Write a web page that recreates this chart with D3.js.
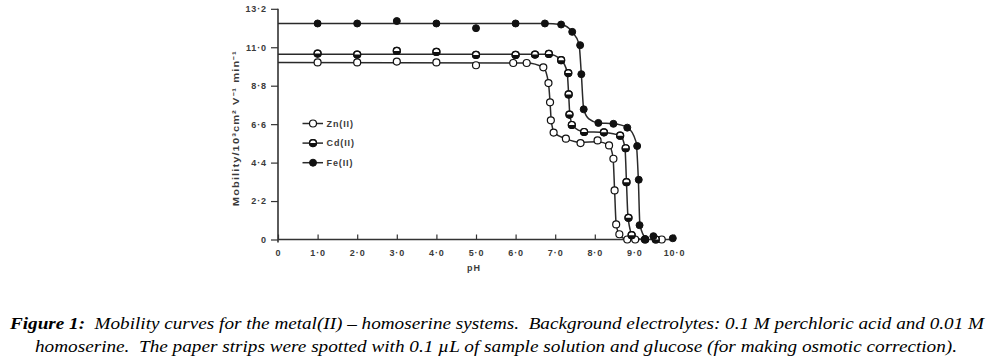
<!DOCTYPE html>
<html>
<head>
<meta charset="utf-8">
<script src="https://cdn.jsdelivr.net/npm/d3@7"></script>
<style>
  body { margin: 0; background: #fff; }
  .tick-label { font-family: "Liberation Sans", Arial, sans-serif; font-size: 9px; font-weight: bold; fill: #3a3a3a; letter-spacing: 0.9px; }
  .caption { font-family: "Liberation Serif", "Times New Roman", serif; font-style: italic; font-size: 16px; fill: #000; }
</style>
</head>
<body>
<div id="chart"></div>
<script>
// pH tick values and labels
const xTicks = [0, 1, 2, 3, 4, 5, 6, 7, 8, 9, 10];
const xTickLabels = ["0", "1·0", "2·0", "3·0", "4·0", "5·0", "6·0", "7·0", "8·0", "9·0", "10·0"];
const yTicks = [0, 2.2, 4.4, 6.6, 8.8, 11.0, 13.2];
const yTickLabels = ["0", "2·2", "4·4", "6·6", "8·8", "11·0", "13·2"];

// measured points [pH, mobility]
const znPoints = [[1, 10.13], [2, 10.13], [3, 10.18], [4, 10.13], [5, 9.97], [5.94, 10.1], [6.28, 10.1],
  [6.7, 9.85], [6.83, 8.95], [6.87, 7.85], [6.89, 6.82], [6.96, 6.12], [7.27, 5.77], [7.64, 5.52],
  [8.07, 5.67], [8.36, 5.38], [8.47, 4.62], [8.5, 2.81], [8.54, 0.86], [8.62, 0.3], [8.82, 0], [9.02, 0], [9.69, 0]];
const cdPoints = [[1, 10.64], [2, 10.58], [3, 10.79], [4, 10.73], [5, 10.56], [6, 10.56], [6.49, 10.58],
  [6.84, 10.62], [7.15, 10.26], [7.33, 9.52], [7.34, 8.3], [7.36, 7.15], [7.42, 6.55], [7.73, 6.15],
  [8.23, 6.13], [8.64, 5.94], [8.78, 5.22], [8.8, 3.28], [8.85, 1.24], [8.93, 0.25], [9.27, 0], [9.54, 0]];
const fePoints = [[1, 12.36], [2, 12.36], [3, 12.5], [4, 12.36], [5, 12.09], [6, 12.36], [6.74, 12.36],
  [7.15, 12.3], [7.43, 11.88], [7.63, 11.12], [7.66, 9.46], [7.72, 7.45], [8.09, 6.67], [8.47, 6.62],
  [8.82, 6.4], [9.07, 5.35], [9.11, 3.42], [9.13, 0.82], [9.27, 0.03], [9.48, 0.19], [9.97, 0.07]];

// hand-drawn smooth curves through the points
const znCurve = [[0, 10.13], [6.28, 10.1], [6.7, 9.85], [6.83, 8.95], [6.87, 7.85], [6.9, 6.82], [6.98, 6.1],
  [7.27, 5.77], [7.64, 5.55], [8.07, 5.6], [8.36, 5.4], [8.46, 4.7], [8.5, 2.81], [8.54, 0.86], [8.65, 0.15], [8.85, 0]];
const cdCurve = [[0, 10.6], [6.84, 10.6], [7.15, 10.28], [7.3, 9.6], [7.34, 8.3], [7.37, 7.15], [7.45, 6.5],
  [7.73, 6.17], [8.23, 6.12], [8.64, 5.94], [8.76, 5.3], [8.8, 3.28], [8.84, 1.22], [8.97, 0.15], [9.2, 0]];
const feCurve = [[0, 12.36], [6.74, 12.36], [7.15, 12.3], [7.43, 11.88], [7.6, 11.2], [7.66, 9.46], [7.72, 7.45],
  [7.85, 6.9], [8.09, 6.67], [8.47, 6.62], [8.82, 6.42], [9.04, 5.6], [9.1, 3.42], [9.14, 0.82], [9.3, 0]];

const seriesNames = ["Zn(II)", "Cd(II)", "Fe(II)"];
const seriesStyles = ["open", "half", "filled"];

const width = 989, height = 362;
const svg = d3.select("#chart").append("svg")
  .attr("width", width).attr("height", height);

const x = d3.scaleLinear().domain([0, 10]).range([278, 674]);
const y = d3.scaleLinear().domain([0, 13.2]).range([239.5, 8.8]);

const axisColor = "#333";

// x axis (ticks point up into the plot)
const xAxis = svg.append("g")
  .attr("transform", `translate(0,${y(0)})`)
  .call(d3.axisBottom(x).tickValues(xTicks).tickSizeInner(-5).tickSizeOuter(0).tickFormat((d, i) => xTickLabels[i]));
xAxis.select(".domain").attr("stroke", axisColor).attr("stroke-width", 1.6).attr("d", `M${x(0)},0H${x(10) + 2}`);
xAxis.selectAll(".tick line").attr("stroke", axisColor).attr("stroke-width", 1.2);
xAxis.selectAll(".tick text").attr("class", "tick-label").attr("y", 10).attr("dy", "0.71em");

// y axis (ticks point out)
const yAxis = svg.append("g")
  .attr("transform", `translate(${x(0)},0)`)
  .call(d3.axisLeft(y).tickValues(yTicks).tickSizeInner(7).tickSizeOuter(0).tickPadding(4).tickFormat((d, i) => yTickLabels[i]));
yAxis.select(".domain").attr("stroke", axisColor).attr("stroke-width", 1.6).attr("d", `M0,${y(13.2)}V${y(0) + 3}`);
yAxis.selectAll(".tick line").attr("stroke", axisColor).attr("stroke-width", 1.2);
yAxis.selectAll(".tick text").attr("class", "tick-label");

// axis titles
svg.append("text").attr("class", "tick-label")
  .attr("x", (x(0) + x(10)) / 2 - 2).attr("y", 271)
  .attr("text-anchor", "middle").text("pH");

svg.append("text").attr("class", "tick-label")
  .attr("transform", `translate(239,${(y(0) + y(13.2)) / 2 + 4}) rotate(-90)`)
  .attr("text-anchor", "middle")
  .attr("textLength", 156).attr("lengthAdjust", "spacingAndGlyphs")
  .style("font-size", "9px")
  .text("Mobility/10³cm² V⁻¹ min⁻¹");

// curves
const line = d3.line()
  .x(d => x(d[0]))
  .y(d => y(d[1]))
  .curve(d3.curveMonotoneX);

[znCurve, cdCurve, feCurve].forEach(c => {
  svg.append("path")
    .attr("d", line(c))
    .attr("fill", "none")
    .attr("stroke", "#2a2a2a")
    .attr("stroke-width", 1.5);
});

// markers
const r = 3.5;
function drawMarker(g, cx, cy, style) {
  if (style === "filled") {
    g.append("circle").attr("cx", cx).attr("cy", cy).attr("r", r)
      .attr("fill", "#111").attr("stroke", "#111").attr("stroke-width", 1);
  } else if (style === "open") {
    g.append("circle").attr("cx", cx).attr("cy", cy).attr("r", r)
      .attr("fill", "#fff").attr("stroke", "#111").attr("stroke-width", 1.2);
  } else {
    g.append("circle").attr("cx", cx).attr("cy", cy).attr("r", r)
      .attr("fill", "#fff").attr("stroke", "#111").attr("stroke-width", 1.2);
    g.append("path")
      .attr("d", `M${cx - r},${cy} A${r},${r} 0 0,0 ${cx + r},${cy} Z`)
      .attr("fill", "#111");
    g.append("circle").attr("cx", cx).attr("cy", cy).attr("r", r)
      .attr("fill", "none").attr("stroke", "#111").attr("stroke-width", 1.2);
  }
}

const markers = svg.append("g");
[znPoints, cdPoints, fePoints].forEach((pts, i) => {
  pts.forEach(p => drawMarker(markers, x(p[0]), y(p[1]), seriesStyles[i]));
});

// legend
const legend = svg.append("g");
seriesNames.forEach((name, i) => {
  const ly = 123.5 + i * 19.6;
  legend.append("line")
    .attr("x1", 302.5).attr("x2", 323).attr("y1", ly).attr("y2", ly)
    .attr("stroke", "#2a2a2a").attr("stroke-width", 1.5);
  drawMarker(legend, 313, ly, seriesStyles[i]);
  legend.append("text").attr("class", "tick-label")
    .attr("x", 326.5).attr("y", ly + 3.2)
    .text(name);
});

// caption
const cap1 = svg.append("text").attr("class", "caption")
  .attr("x", 10).attr("y", 329)
  .attr("textLength", 974).attr("lengthAdjust", "spacingAndGlyphs");
cap1.append("tspan").style("font-weight", "bold").text("Figure 1:");
cap1.append("tspan").text("\u00a0 Mobility curves for the metal(II) – homoserine systems.\u00a0 Background electrolytes: 0.1 M perchloric acid and 0.01 M");

svg.append("text").attr("class", "caption")
  .attr("x", 35).attr("y", 352)
  .attr("textLength", 922).attr("lengthAdjust", "spacingAndGlyphs")
  .text("homoserine.\u00a0 The paper strips were spotted with 0.1 µL of sample solution and glucose (for making osmotic correction).");
</script>
</body>
</html>
